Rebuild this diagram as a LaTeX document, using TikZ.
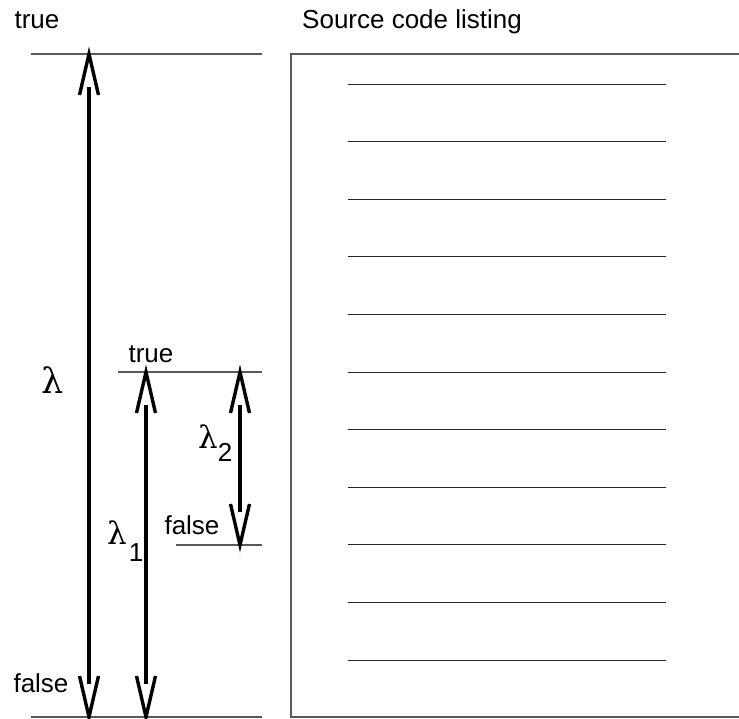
\documentclass[tikz,border=0pt]{standalone}
\usepackage{fontspec}
\setmainfont{Liberation Sans}
\newfontfamily\lamfont{DejaVu Serif}
\usetikzlibrary{calc}

\begin{document}
\begin{tikzpicture}[x=1pt,y=-1pt,
  lbl/.style={inner sep=0pt, font=\fontsize{26}{30}\selectfont},
  lam/.style={inner sep=0pt, font=\lamfont\fontsize{35}{40}\selectfont},
  lamsm/.style={inner sep=0pt, font=\lamfont\fontsize{31}{35}\selectfont},
  sub/.style={inner sep=0pt, font=\fontsize{26}{30}\selectfont},
  level/.style={draw=black!65, line width=1.2pt},
  codeline/.style={draw=black!85, line width=1pt},
  frame/.style={draw=black!65, line width=1.4pt},
  shaft/.style={line width=4.6pt, shorten <=33pt, shorten >=33pt},
  barb/.style={line width=3.4pt, line join=miter}
]
\clip (0,0) rectangle (739,718);
\fill[white] (0,0) rectangle (739,718);

% level markers on the left
\coordinate (topL) at (31,54);   \coordinate (topR) at (262,54);
\coordinate (botL) at (31,717);  \coordinate (botR) at (262,717);
\coordinate (midL) at (118,372); \coordinate (midR) at (262,372);
\coordinate (lowL) at (176,545); \coordinate (lowR) at (262,545);
\draw[level] (topL) -- (topR);
\draw[level] (botL) -- (botR);
\draw[level] (midL) -- (midR);
\draw[level] (lowL) -- (lowR);

% arrow end points
\coordinate (a0t) at (89,54);   \coordinate (a0b) at (89,717);
\coordinate (a1t) at (146,372); \coordinate (a1b) at (146,717);
\coordinate (a2t) at (240,372); \coordinate (a2b) at (240,545);

% double-headed arrows with open barbs
\foreach \t/\b in {a0t/a0b, a1t/a1b, a2t/a2b}{
  \draw[shaft] (\t) -- (\b);
  \draw[barb] ($(\t)+(-9.5,41)$) -- (\t) -- ($(\t)+(9.5,41)$);
  \draw[barb] ($(\b)+(-9.5,-41)$) -- (\b) -- ($(\b)+(9.5,-41)$);
}

% labels
\node[lbl, anchor=base] (ttop) at (37,28) {true};
\node[lbl, anchor=base west] (title) at (302,28) {Source code listing};
\node[lbl, anchor=base] (tmid) at (151,362) {true};
\node[lbl, anchor=base] (fmid) at (192,534) {false};
\node[lbl, anchor=base] (fbot) at (41,692) {false};

\node[lam] (l0) at (53,380) {λ};
\node[lamsm] (l1) at (117,533) {λ};
\node[sub] (s1) at (136,553) {1};
\node[lamsm] (l2) at (208,437) {λ};
\node[sub] (s2) at (225,452) {2};

% source listing frame and its lines
\draw[frame] (750,54) -- (291,54) -- (291,717) -- (750,717);
\foreach \i in {0,...,10}{
  \draw[codeline] (348,{84+57.6*\i}) -- (666,{84+57.6*\i});
}
\end{tikzpicture}
\end{document}
